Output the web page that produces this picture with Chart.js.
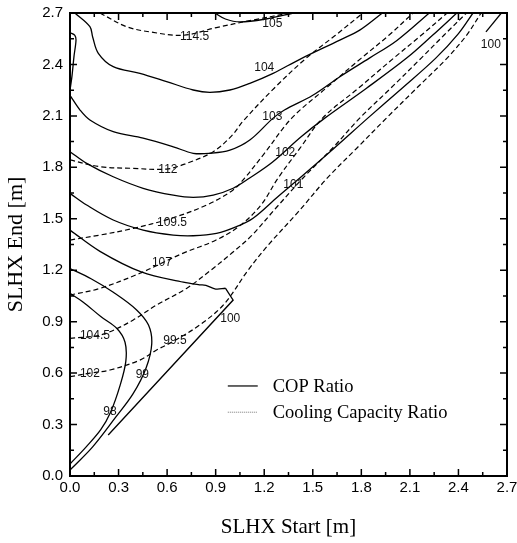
<!DOCTYPE html>
<html>
<head>
<meta charset="utf-8">
<script src="https://cdn.jsdelivr.net/npm/chart.js@4.4.0/dist/chart.umd.min.js"></script>
<style>
  html, body { margin: 0; padding: 0; background: #fff; }
</style>
</head>
<body>
<canvas id="contourChart" width="517" height="543"></canvas>
<script>
// axis ticks
const xTickValues = [0, 0.3, 0.6, 0.9, 1.2, 1.5, 1.8, 2.1, 2.4, 2.7];
const xTickLabels = ["0.0", "0.3", "0.6", "0.9", "1.2", "1.5", "1.8", "2.1", "2.4", "2.7"];
const yTickValues = [0, 0.3, 0.6, 0.9, 1.2, 1.5, 1.8, 2.1, 2.4, 2.7];
const yTickLabels = ["0.0", "0.3", "0.6", "0.9", "1.2", "1.5", "1.8", "2.1", "2.4", "2.7"];
const minorTickValues = [0.15, 0.45, 0.75, 1.05, 1.35, 1.65, 1.95, 2.25, 2.55];

// COP ratio contours (solid), [start, end] in m
const cop98 = [[0, 0.07], [0.1, 0.17], [0.19, 0.27], [0.25, 0.37], [0.31, 0.53], [0.345, 0.67], [0.34, 0.78], [0.29, 0.86], [0.19, 0.93], [0.08, 1.015], [0, 1.065]];
const cop99 = [[0, 0.035], [0.14, 0.17], [0.28, 0.34], [0.39, 0.48], [0.47, 0.63], [0.505, 0.77], [0.485, 0.88], [0.41, 0.97], [0.27, 1.07], [0.13, 1.15], [0, 1.21]];
const cop100Curve = [[0, 1.434], [0.185, 1.31], [0.44, 1.19], [0.7, 1.13], [0.8, 1.115], [0.84, 1.112], [0.9, 1.09], [0.96, 1.095]];
const cop100Edge = [[0.96, 1.095], [1.008, 1.026], [0.236, 0.239]];
const cop100Top = [[2.57, 2.59], [2.665, 2.7]];
const cop101 = [[0, 1.648], [0.103, 1.58], [0.267, 1.493], [0.452, 1.434], [0.638, 1.405], [0.761, 1.401], [0.905, 1.415], [1.029, 1.454], [1.131, 1.503], [1.284, 1.629], [1.42, 1.738], [1.63, 1.91], [1.84, 2.087], [2.05, 2.26], [2.26, 2.437], [2.4, 2.58], [2.49, 2.7]];
const cop102 = [[0, 1.891], [0.103, 1.823], [0.267, 1.745], [0.452, 1.678], [0.638, 1.638], [0.761, 1.625], [0.885, 1.638], [1.008, 1.678], [1.11, 1.738], [1.25, 1.83], [1.428, 1.978], [1.574, 2.087], [1.83, 2.26], [2.08, 2.437], [2.24, 2.57], [2.39, 2.7]];
const cop103 = [[0, 2.22], [0.062, 2.134], [0.123, 2.076], [0.267, 2.008], [0.452, 1.97], [0.638, 1.92], [0.761, 1.882], [0.864, 1.882], [0.988, 1.9], [1.111, 1.959], [1.255, 2.087], [1.325, 2.134], [1.5, 2.22], [1.67, 2.33], [1.85, 2.437], [2.02, 2.54], [2.22, 2.7]];
const cop104 = [[0.03, 2.7], [0.123, 2.62], [0.14, 2.56], [0.175, 2.465], [0.267, 2.387], [0.432, 2.348], [0.597, 2.3], [0.761, 2.251], [0.864, 2.237], [0.988, 2.251], [1.111, 2.29], [1.255, 2.348], [1.42, 2.43], [1.667, 2.542], [1.79, 2.6], [1.93, 2.7]];
const cop105 = [[0.895, 2.7], [0.96, 2.665], [1.05, 2.648], [1.21, 2.665], [1.38, 2.7]];
const copEdgeLoop = [[0, 2.585], [0.03, 2.57], [0.037, 2.54], [0.025, 2.45], [0.012, 2.33], [0, 2.25]];

// cooling capacity ratio contours (dashed)
const cap114p5 = [[0.185, 2.7], [0.35, 2.62], [0.514, 2.587], [0.7, 2.57], [0.905, 2.615], [1.131, 2.659], [1.36, 2.7]];
const cap112 = [[0, 1.843], [0.185, 1.804], [0.391, 1.794], [0.597, 1.79], [0.72, 1.823], [0.885, 1.891], [1.0, 1.985], [1.07, 2.07], [1.26, 2.26], [1.46, 2.437], [1.64, 2.57], [1.81, 2.7]];
const cap109p5 = [[0, 1.376], [0.185, 1.405], [0.391, 1.444], [0.617, 1.5], [0.844, 1.58], [1.008, 1.668], [1.08, 1.738], [1.2, 1.88], [1.37, 2.087], [1.58, 2.26], [1.8, 2.437], [1.97, 2.57], [2.12, 2.7]];
const cap107 = [[0, 1.055], [0.185, 1.094], [0.432, 1.182], [0.568, 1.242], [0.7, 1.3], [0.9, 1.375], [1.05, 1.46], [1.18, 1.58], [1.286, 1.738], [1.42, 1.91], [1.56, 2.087], [1.78, 2.26], [2.0, 2.437], [2.17, 2.57], [2.33, 2.7]];
const cap104p5 = [[0, 0.803], [0.154, 0.816], [0.247, 0.841], [0.391, 0.91], [0.535, 0.997], [0.72, 1.094], [0.87, 1.2], [1.0, 1.3], [1.12, 1.4], [1.27, 1.56], [1.44, 1.738], [1.62, 1.91], [1.79, 2.087], [1.98, 2.26], [2.17, 2.437], [2.31, 2.57], [2.45, 2.7]];
const cap102 = [[0, 0.579], [0.123, 0.6], [0.247, 0.618], [0.432, 0.676], [0.535, 0.735], [0.648, 0.79], [0.8, 0.88], [0.95, 1.0], [1.1, 1.2], [1.225, 1.347], [1.41, 1.54], [1.59, 1.738], [1.77, 1.91], [1.955, 2.087], [2.14, 2.26], [2.33, 2.437], [2.45, 2.57], [2.54, 2.7]];

// inline contour labels
const labelTexts = ["114.5", "105", "104", "103", "102", "101", "100", "112", "109.5", "107", "104.5", "102", "99.5", "99", "98", "100"];
const labelX = [0.77, 1.25, 1.2, 1.25, 1.33, 1.38, 2.6, 0.605, 0.63, 0.568, 0.154, 0.123, 0.648, 0.447, 0.247, 0.99];
const labelY = [2.562, 2.64, 2.38, 2.093, 1.883, 1.697, 2.513, 1.784, 1.48, 1.242, 0.816, 0.599, 0.787, 0.589, 0.375, 0.92];

const legendNames = ["COP Ratio", "Cooling Capacity Ratio"];

const sansFont = "'Liberation Sans', Arial, sans-serif";
const serifFont = "'Liberation Serif', 'Times New Roman', serif";

function toPoints(arr) {
  return arr.map(p => ({ x: p[0], y: p[1] }));
}

function solidLine(arr, tension = 0.35) {
  return { data: toPoints(arr), showLine: true, borderColor: "#000", borderWidth: 1.3, pointRadius: 0, tension: tension, fill: false };
}

function dashedLine(arr) {
  return { data: toPoints(arr), showLine: true, borderColor: "#000", borderWidth: 1.2, borderDash: [5, 3], pointRadius: 0, tension: 0.35, fill: false };
}

const datasets = [
  solidLine(cop98), solidLine(cop99), solidLine(cop100Curve), solidLine(cop100Edge, 0), solidLine(cop100Top, 0),
  solidLine(cop101), solidLine(cop102), solidLine(cop103), solidLine(cop104), solidLine(cop105), solidLine(copEdgeLoop, 0.3),
  dashedLine(cap114p5), dashedLine(cap112), dashedLine(cap109p5), dashedLine(cap107), dashedLine(cap104p5), dashedLine(cap102)
];

// frame, inward ticks on all four sides, contour labels and legend
const framePlugin = {
  id: "frame",
  afterDatasetsDraw(chart) {
    const { ctx, chartArea: a, scales } = chart;
    const xs = scales.x, ys = scales.y;
    ctx.save();
    ctx.strokeStyle = "#000";
    ctx.lineWidth = 1.5;
    ctx.setLineDash([]);
    ctx.beginPath();
    xTickValues.forEach(v => {
      const px = xs.getPixelForValue(v);
      ctx.moveTo(px, a.bottom); ctx.lineTo(px, a.bottom - 7);
      ctx.moveTo(px, a.top); ctx.lineTo(px, a.top + 7);
    });
    yTickValues.forEach(v => {
      const py = ys.getPixelForValue(v);
      ctx.moveTo(a.left, py); ctx.lineTo(a.left + 7, py);
      ctx.moveTo(a.right, py); ctx.lineTo(a.right - 7, py);
    });
    minorTickValues.forEach(v => {
      const px = xs.getPixelForValue(v);
      const py = ys.getPixelForValue(v);
      ctx.moveTo(px, a.bottom); ctx.lineTo(px, a.bottom - 4);
      ctx.moveTo(px, a.top); ctx.lineTo(px, a.top + 4);
      ctx.moveTo(a.left, py); ctx.lineTo(a.left + 4, py);
      ctx.moveTo(a.right, py); ctx.lineTo(a.right - 4, py);
    });
    ctx.stroke();
    ctx.lineWidth = 2;
    ctx.strokeRect(a.left, a.top, a.right - a.left, a.bottom - a.top);

    ctx.fillStyle = "#111";
    ctx.font = "12px " + sansFont;
    ctx.textAlign = "center";
    ctx.textBaseline = "middle";
    labelTexts.forEach((t, i) => {
      ctx.fillText(t, xs.getPixelForValue(labelX[i]), ys.getPixelForValue(labelY[i]));
    });

    // legend, anchored in data space
    const lx0 = xs.getPixelForValue(0.975), lx1 = xs.getPixelForValue(1.16);
    const ly = [ys.getPixelForValue(0.525), ys.getPixelForValue(0.372)];
    ctx.lineWidth = 1.2;
    ctx.beginPath(); ctx.moveTo(lx0, ly[0]); ctx.lineTo(lx1, ly[0]); ctx.stroke();
    ctx.strokeStyle = "#777";
    ctx.lineWidth = 1;
    ctx.setLineDash([1, 1]);
    ctx.beginPath(); ctx.moveTo(lx0, ly[1]); ctx.lineTo(lx1, ly[1]); ctx.stroke();
    ctx.setLineDash([]);
    ctx.fillStyle = "#000";
    ctx.font = "18.5px " + serifFont;
    ctx.textAlign = "left";
    legendNames.forEach((n, i) => ctx.fillText(n, lx1 + 15, ly[i] + 1));
    ctx.restore();
  }
};

const ctx = document.getElementById("contourChart").getContext("2d");
const chart = new Chart(ctx, {
  type: "scatter",
  data: { datasets },
  options: {
    responsive: false,
    animation: false,
    devicePixelRatio: 1,
    layout: { padding: { top: 13, right: 10, left: 0, bottom: 0 } },
    plugins: { legend: { display: false }, tooltip: { enabled: false } },
    scales: {
      x: {
        type: "linear",
        min: 0,
        max: 2.7,
        afterBuildTicks: s => { s.ticks = xTickValues.map(v => ({ value: v })); },
        afterFit: s => { s.height = 67; s.paddingLeft = 0; s.paddingRight = 0; },
        ticks: {
          callback: (v, i) => xTickLabels[i],
          font: { family: sansFont, size: 15 },
          color: "#000",
          padding: 3,
          maxRotation: 0,
          autoSkip: false
        },
        grid: { display: false, drawTicks: false },
        border: { display: false },
        title: { display: true, text: "SLHX Start [m]", color: "#000", font: { family: serifFont, size: 21 }, padding: { top: 0, bottom: 2.5 } }
      },
      y: {
        type: "linear",
        min: 0,
        max: 2.7,
        afterBuildTicks: s => { s.ticks = yTickValues.map(v => ({ value: v })); },
        afterFit: s => { s.width = 70; s.paddingTop = 0; s.paddingBottom = 0; },
        ticks: {
          callback: (v, i) => yTickLabels[i],
          font: { family: sansFont, size: 15 },
          color: "#000",
          padding: 7,
          autoSkip: false
        },
        grid: { display: false, drawTicks: false },
        border: { display: false },
        title: { display: true, text: "SLHX End [m]", color: "#000", font: { family: serifFont, size: 22 }, padding: { top: 3.5, bottom: 0 } }
      }
    }
  },
  plugins: [framePlugin]
});
</script>
</body>
</html>
